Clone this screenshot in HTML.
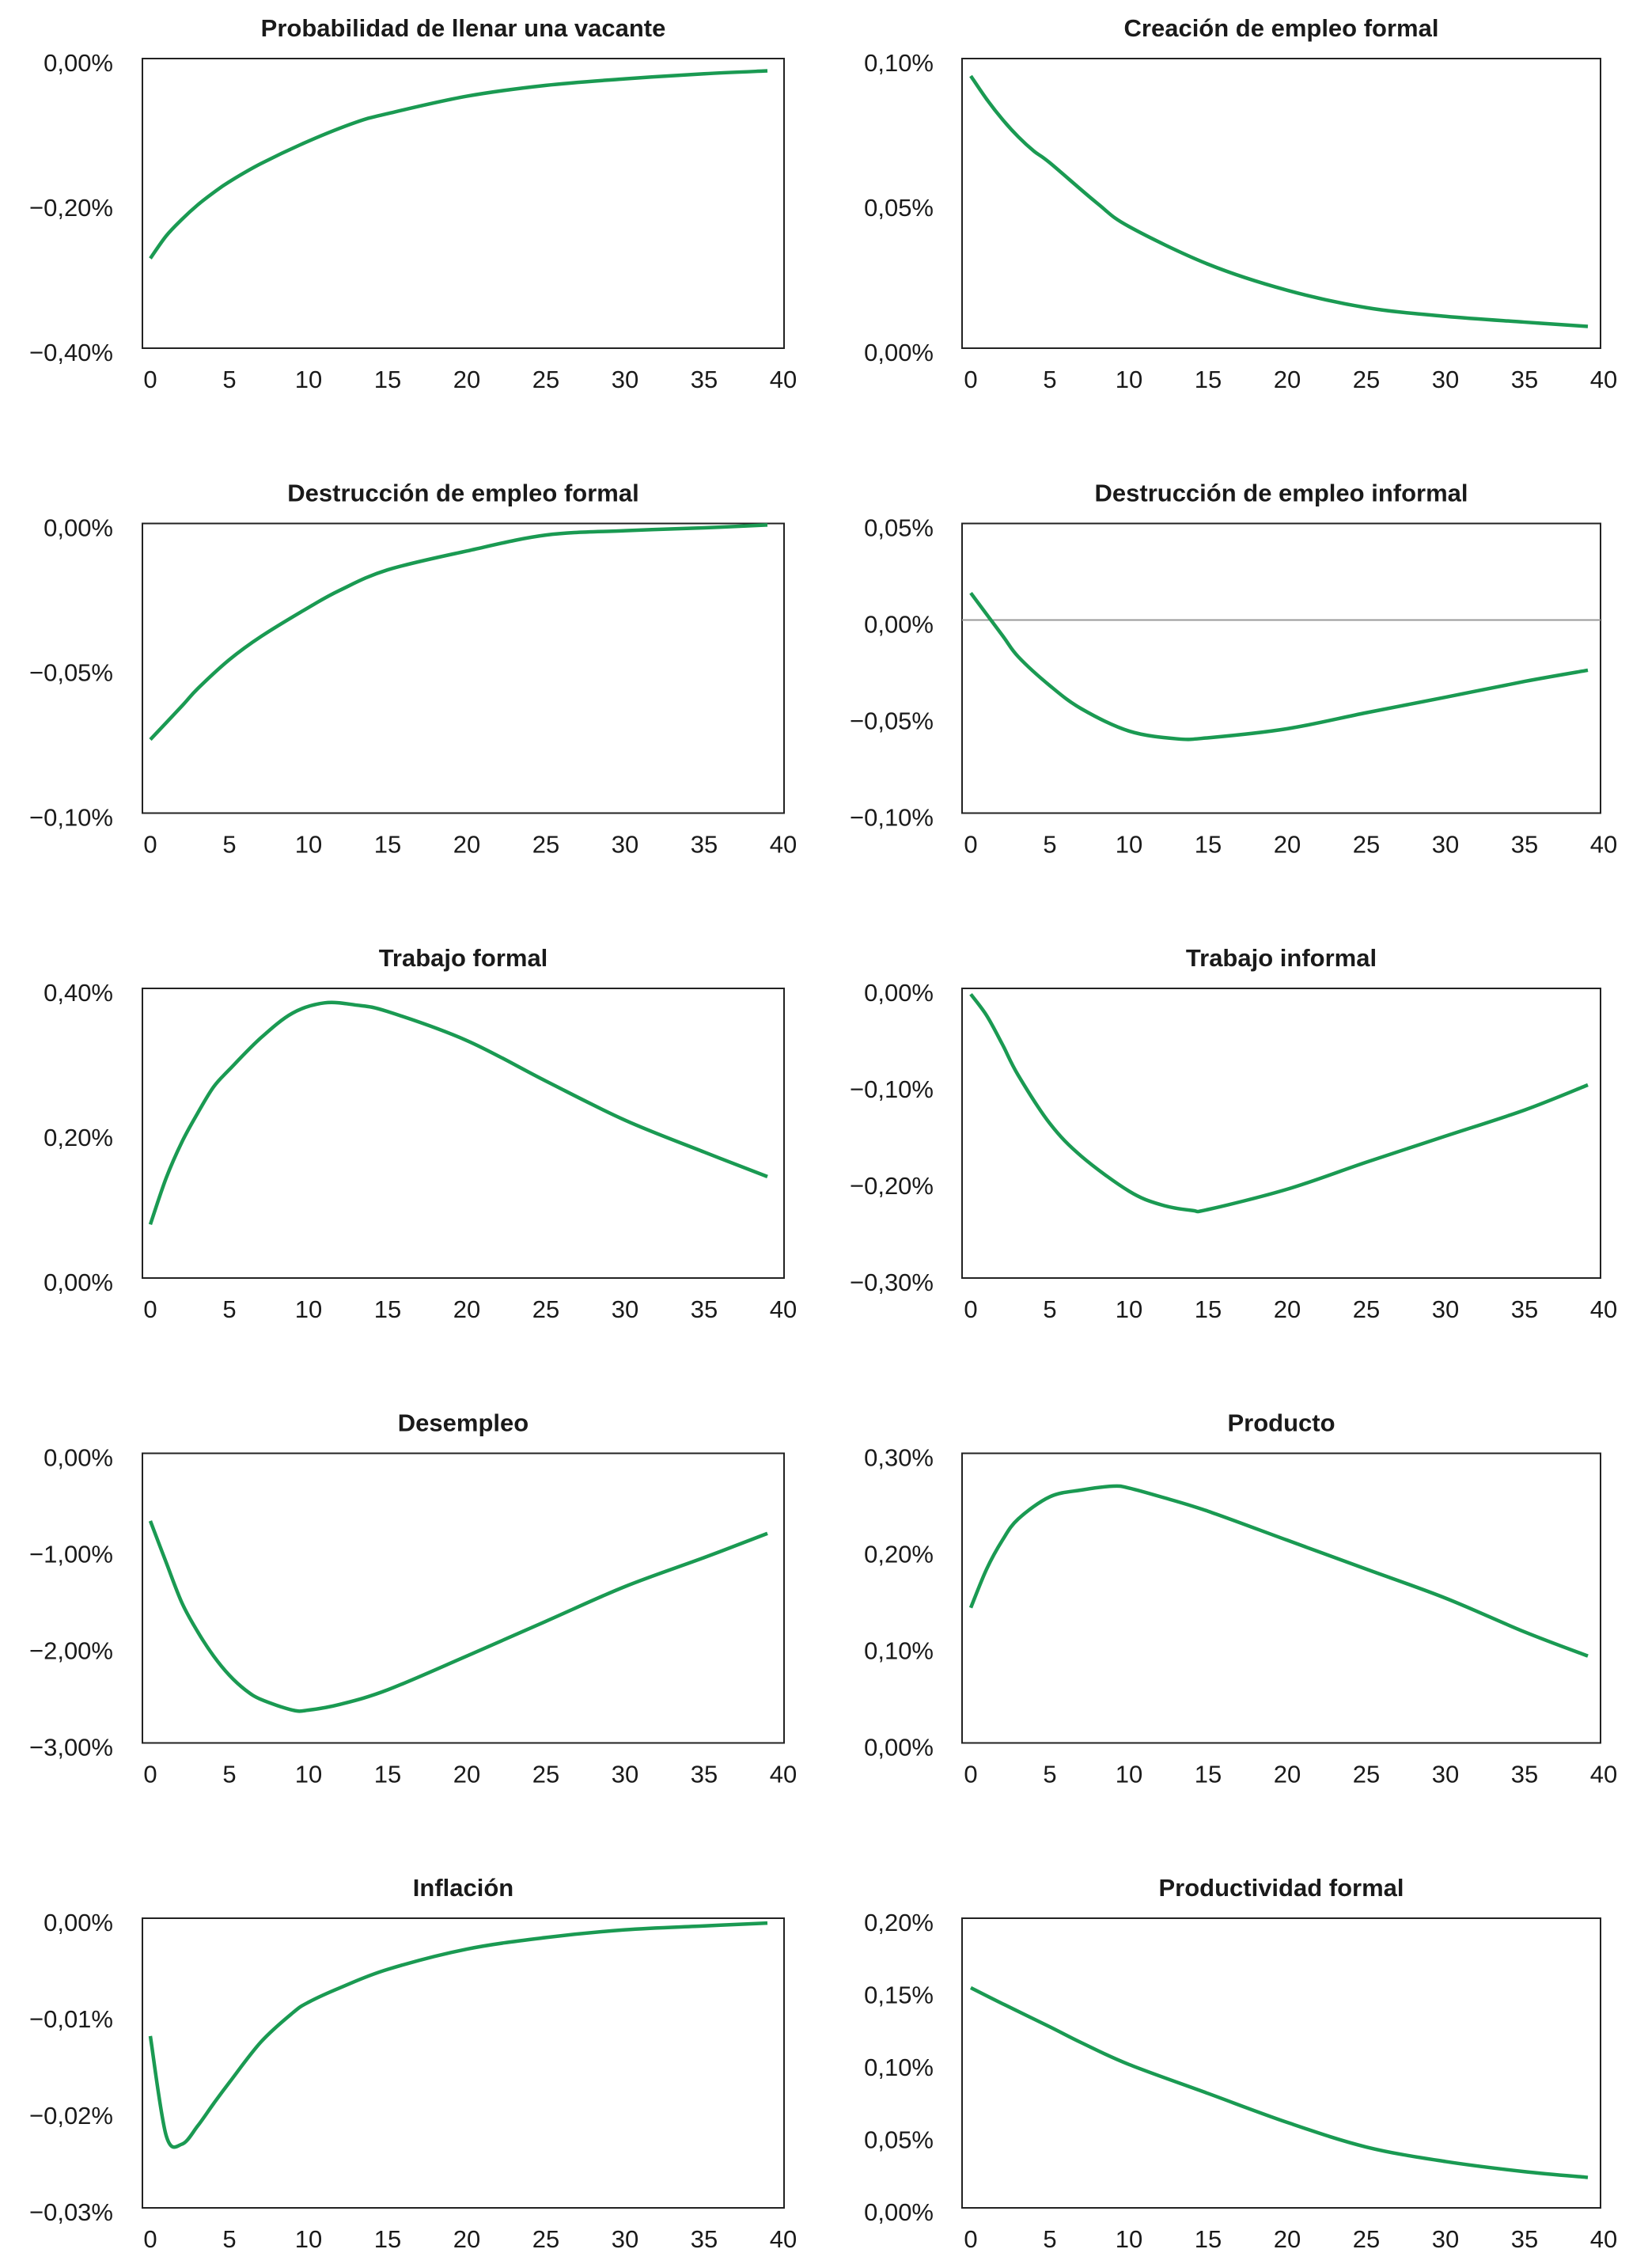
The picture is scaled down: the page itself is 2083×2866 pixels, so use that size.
<!DOCTYPE html>
<html><head><meta charset="utf-8"><style>
html,body{margin:0;padding:0;background:#fff}
svg{display:block}
text{font-family:"Liberation Sans",sans-serif;fill:#1a1a1a}
</style></head><body>
<svg id="chart" width="2083" height="2866" viewBox="0 0 2083 2866" xmlns="http://www.w3.org/2000/svg"></svg>
<script>
const titles = ["Probabilidad de llenar una vacante","Creación de empleo formal","Destrucción de empleo formal","Destrucción de empleo informal","Trabajo formal","Trabajo informal","Desempleo","Producto","Inflación","Productividad formal"];
const xTicks = [0,5,10,15,20,25,30,35,40];
const yMin = [-0.40,0,-0.10,-0.10,0,-0.30,-3.00,0,-0.03,0];
const yMax = [0,0.10,0,0.05,0.40,0,0,0.30,0,0.20];
const yTickLabels = [
 ["0,00%","−0,20%","−0,40%"],
 ["0,10%","0,05%","0,00%"],
 ["0,00%","−0,05%","−0,10%"],
 ["0,05%","0,00%","−0,05%","−0,10%"],
 ["0,40%","0,20%","0,00%"],
 ["0,00%","−0,10%","−0,20%","−0,30%"],
 ["0,00%","−1,00%","−2,00%","−3,00%"],
 ["0,30%","0,20%","0,10%","0,00%"],
 ["0,00%","−0,01%","−0,02%","−0,03%"],
 ["0,20%","0,15%","0,10%","0,05%","0,00%"]
];
const zeroLine = [false,false,false,true,false,false,false,false,false,false];
const tP1 = [0,1,2,3,4,5,7,10,13,15,20,25,30,35,39];
const vP1 = [-0.276,-0.245,-0.222,-0.202,-0.185,-0.170,-0.145,-0.114,-0.088,-0.076,-0.052,-0.037,-0.028,-0.021,-0.017];
const tP2 = [0,1,2,3,4,5,8,10,15,20,25,30,35,39];
const vP2 = [0.094,0.086,0.079,0.073,0.068,0.064,0.050,0.042,0.029,0.020,0.014,0.011,0.009,0.0075];
const tP3 = [0,2,3,5,7,10,12,15,20,25,30,35,39];
const vP3 = [-0.0746,-0.063,-0.057,-0.047,-0.039,-0.029,-0.023,-0.016,-0.0095,-0.004,-0.0025,-0.0015,-0.0005];
const tP4 = [0,2,3,5,7,10,13,15,20,25,30,35,39];
const vP4 = [0.014,-0.008,-0.019,-0.034,-0.046,-0.0575,-0.0615,-0.061,-0.0563,-0.048,-0.040,-0.0318,-0.026];
const tP5 = [0,1,2,3,4,5,7,9,11,13,15,20,25,30,35,39];
const vP5 = [0.074,0.138,0.188,0.228,0.264,0.288,0.332,0.366,0.380,0.377,0.368,0.328,0.272,0.218,0.174,0.14];
const tP6 = [0,1,2,3,5,7,10,12,14,15,20,25,30,35,39];
const vP6 = [-0.006,-0.028,-0.058,-0.09,-0.14,-0.174,-0.21,-0.224,-0.23,-0.229,-0.208,-0.18,-0.153,-0.126,-0.10];
const tP7 = [0,1,2,3,4,5,6,7,9,10,12,15,20,25,30,35,39];
const vP7 = [-0.70,-1.13,-1.55,-1.85,-2.10,-2.30,-2.45,-2.55,-2.66,-2.66,-2.60,-2.45,-2.10,-1.74,-1.38,-1.08,-0.83];
const tP8 = [0,1,2,3,5,7,9,10,12,15,20,25,30,35,39];
const vP8 = [0.14,0.18,0.21,0.232,0.255,0.262,0.266,0.264,0.255,0.24,0.21,0.18,0.15,0.115,0.09];
const tP9 = [0,1,2,3,4,5,7,9,10,12,15,20,25,30,35,39];
const vP9 = [-0.0122,-0.0225,-0.0234,-0.0215,-0.0192,-0.017,-0.0128,-0.0098,-0.0087,-0.0072,-0.0053,-0.0032,-0.002,-0.0012,-0.0008,-0.0005];
const tP10 = [0,2,5,7,10,15,20,25,30,35,39];
const vP10 = [0.152,0.141,0.125,0.114,0.099,0.079,0.059,0.042,0.032,0.025,0.021];
const seriesT = [tP1,tP2,tP3,tP4,tP5,tP6,tP7,tP8,tP9,tP10];
const seriesV = [vP1,vP2,vP3,vP4,vP5,vP6,vP7,vP8,vP9,vP10];

const NS="http://www.w3.org/2000/svg";
const svg=document.getElementById('chart');
function mk(tag,attrs,parent){const e=document.createElementNS(NS,tag);for(const k in attrs)e.setAttribute(k,attrs[k]);(parent||svg).appendChild(e);return e;}
const slug=s=>s.normalize('NFD').replace(/[\u0300-\u036f]/g,'').toLowerCase().replace(/[^a-z0-9]+/g,'-').replace(/-+$/,'');

for(let i=0;i<10;i++){
  const col=i%2,row=Math.floor(i/2);
  const bx= col===0?180:1216, bw= col===0?811:807;
  const by=74+row*587.5, bh=366;
  const x0= col===0?190:1227, dx=20.0;
  const xs=t=>x0+t*dx;
  const ys=v=>by+(yMax[i]-v)/(yMax[i]-yMin[i])*bh;
  const g=mk('g',{});
  
  
  const tt=mk('text',{x:bx+bw/2,y:by-28,'text-anchor':'middle','font-size':31,'font-weight':'bold'},g);
  tt.textContent=titles[i];
  
  
  const box=mk('rect',{x:bx,y:by,width:bw,height:bh,fill:'none',stroke:'#222','stroke-width':2},g);
  
  
  const labs=yTickLabels[i], n=labs.length;
  for(let k=0;k<n;k++){
    const yy=by+k*bh/(n-1);
    const tl=mk('text',{x:col===0?143:1180,y:yy+16,'text-anchor':'end','font-size':31},g);
    tl.textContent=labs[k];
    
    
  }
  for(const xt of xTicks){
    const tl=mk('text',{x:xs(xt),y:by+bh+50,'text-anchor':'middle','font-size':31},g);
    tl.textContent=String(xt);
    
    
  }
  if(zeroLine[i]){
    const zl=mk('line',{x1:bx,x2:bx+bw,y1:ys(0),y2:ys(0),stroke:'#999','stroke-width':2},g);
    
    
  }
  const T=seriesT[i],V=seriesV[i];
  const pts=T.map((t,k)=>[xs(t),ys(V[k])]);
  let d='M'+pts[0][0]+','+pts[0][1];
  for(let k=0;k<pts.length-1;k++){
    const p0=pts[Math.max(0,k-1)],p1=pts[k],p2=pts[k+1],p3=pts[Math.min(pts.length-1,k+2)];
    const c1=[p1[0]+(p2[0]-p0[0])/6,p1[1]+(p2[1]-p0[1])/6];
    const c2=[p2[0]-(p3[0]-p1[0])/6,p2[1]-(p3[1]-p1[1])/6];
    d+=' C'+c1[0]+','+c1[1]+' '+c2[0]+','+c2[1]+' '+p2[0]+','+p2[1];
  }
  const ln=mk('path',{d:d,fill:'none',stroke:'#1a9a52','stroke-width':4.5,'stroke-linejoin':'round'},g);
  
  
}
</script>
</body></html>
